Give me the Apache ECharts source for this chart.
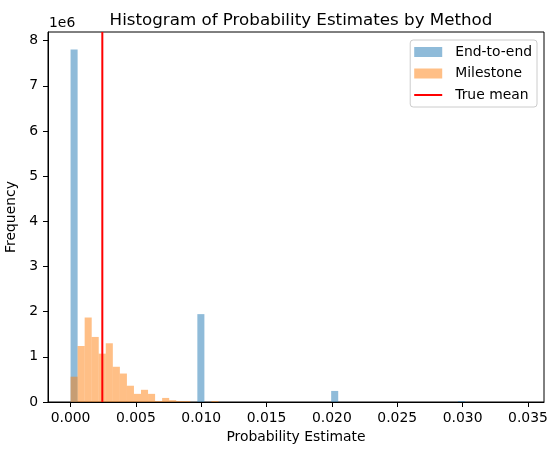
<!DOCTYPE html>
<html>
<head>
<meta charset="utf-8">
<script src="https://cdn.jsdelivr.net/npm/echarts@6/dist/echarts.min.js"></script>
<style>
  html, body { margin: 0; padding: 0; background: #fff; }
  #chart { width: 558px; height: 454px; }
</style>
</head>
<body>
<div id="chart"></div>
<script>
'use strict';

// histogram bins share one width, starting at 0
const binWidth = 0.000539;

// End-to-end: sparse bins (bin index, count)
const endToEndBins = [0, 18, 37, 55];
const endToEndCounts = [7800000, 1945000, 245000, 20000];

// Milestone: counts for bins 0..20
const milestoneCounts = [
  560000, 1240000, 1870000, 1440000, 1070000, 1300000, 780000, 630000,
  360000, 180000, 270000, 180000, 20000, 90000, 40000, 20000, 20000,
  0, 0, 0, 20000
];

const trueMean = 0.00243;

const xTicks = [0, 0.005, 0.01, 0.015, 0.02, 0.025, 0.03, 0.035];
const xMin = -0.001727;
const xMax = 0.03623;
const yMax = 8190000;

const font = 'DejaVu Sans';

function toBars(indices, counts) {
  return counts.map((c, i) => [indices[i] * binWidth, c]);
}

function renderBar(params, api) {
  const x0 = api.value(0);
  const topLeft = api.coord([x0, api.value(1)]);
  const bottomRight = api.coord([x0 + binWidth, 0]);
  return {
    type: 'rect',
    shape: {
      x: topLeft[0],
      y: topLeft[1],
      width: bottomRight[0] - topLeft[0],
      height: bottomRight[1] - topLeft[1]
    },
    style: api.style()
  };
}

const chart = echarts.init(document.getElementById('chart'), null, { renderer: 'canvas' });

const option = {
  animation: false,
  backgroundColor: '#fff',
  title: {
    text: 'Histogram of Probability Estimates by Method',
    left: 296,
    top: 7,
    textAlign: 'center',
    textStyle: { fontFamily: font, fontSize: 16.7, fontWeight: 'normal', color: '#000' }
  },
  graphic: [{
    type: 'text',
    x: 49,
    y: 16,
    style: { text: '1e6', fontFamily: font, fontSize: 13.9, fill: '#000', verticalAlign: 'top', align: 'left' }
  }],
  legend: {
    orient: 'vertical',
    right: 21,
    top: 40,
    padding: [5, 5, 5, 4],
    itemWidth: 28,
    itemHeight: 10,
    itemGap: 7.5,
    symbolKeepAspect: true,
    borderColor: '#cccccc',
    borderWidth: 1,
    borderRadius: 3,
    backgroundColor: 'rgba(255,255,255,0.8)',
    textStyle: { fontFamily: font, fontSize: 13.9, color: '#000', padding: [0, 0, 0, 8] },
    data: [
      { name: 'End-to-end', icon: 'rect' },
      { name: 'Milestone', icon: 'rect' },
      { name: 'True mean', icon: 'path://M0,0 L28,0 L28,2 L0,2 Z' }
    ]
  },
  grid: {
    left: 48,
    top: 32,
    right: 14,
    bottom: 52,
    outerBoundsMode: 'none',
    show: true,
    borderColor: '#000',
    borderWidth: 1
  },
  xAxis: {
    type: 'value',
    min: xMin,
    max: xMax,
    name: 'Probability Estimate',
    nameLocation: 'middle',
    nameGap: 27,
    nameTextStyle: { fontFamily: font, fontSize: 13.9, color: '#000' },
    axisLine: { show: true, onZero: false, lineStyle: { color: '#000', width: 1 } },
    axisTick: { show: true, length: 5, customValues: xTicks, lineStyle: { color: '#000', width: 1 } },
    axisLabel: {
      margin: 9,
      customValues: xTicks,
      formatter: v => v.toFixed(3),
      fontFamily: font,
      fontSize: 13.9,
      color: '#000'
    },
    splitLine: { show: false }
  },
  yAxis: {
    type: 'value',
    min: 0,
    max: yMax,
    interval: 1000000,
    name: 'Frequency',
    nameLocation: 'middle',
    nameRotate: 90,
    nameGap: 22,
    nameTextStyle: { fontFamily: font, fontSize: 13.9, color: '#000' },
    axisLine: { show: true, onZero: false, lineStyle: { color: '#000', width: 1 } },
    axisTick: { show: true, length: 5, lineStyle: { color: '#000', width: 1 } },
    axisLabel: {
      margin: 10,
      formatter: v => String(Math.round(v / 1000000)),
      fontFamily: font,
      fontSize: 13.9,
      color: '#000'
    },
    splitLine: { show: false }
  },
  series: [
    {
      name: 'End-to-end',
      type: 'custom',
      renderItem: renderBar,
      itemStyle: { color: 'rgba(31,119,180,0.5)' },
      encode: { x: 0, y: 1 },
      data: toBars(endToEndBins, endToEndCounts),
      z: 2
    },
    {
      name: 'Milestone',
      type: 'custom',
      renderItem: renderBar,
      itemStyle: { color: 'rgba(255,127,14,0.5)' },
      encode: { x: 0, y: 1 },
      data: toBars(milestoneCounts.map((c, i) => i), milestoneCounts),
      z: 3
    },
    {
      name: 'True mean',
      type: 'line',
      symbol: 'none',
      lineStyle: { color: '#ff0000', width: 2 },
      itemStyle: { color: '#ff0000' },
      data: [[trueMean, 0], [trueMean, yMax]],
      z: 4
    }
  ]
};

chart.setOption(option);
</script>
</body>
</html>
